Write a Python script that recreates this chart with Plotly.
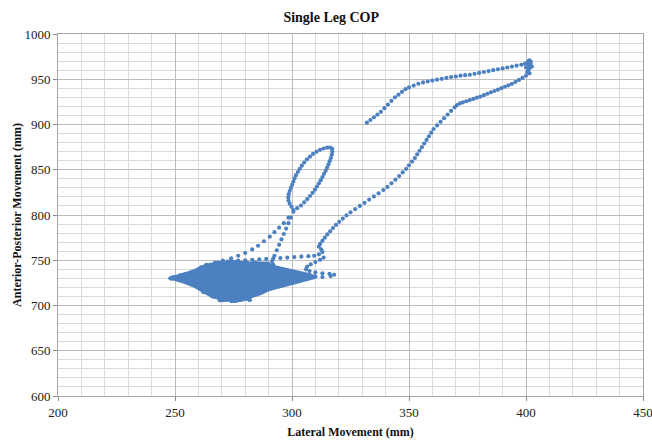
import plotly.graph_objects as go

# Centre-of-pressure trace, single-leg stance (mm)

# outward drift toward the upper-right turn
out_x = [332, 333.5, 335, 336.5, 338, 339.5, 341, 342.5, 344, 345.5, 347, 348.5, 350, 352, 354, 356,
         358, 360, 362, 364, 366, 368, 370, 372, 374, 376, 378, 380, 382, 384, 386, 388, 390, 392,
         394, 396, 398, 399.5]
out_y = [902, 905, 908, 911, 914, 918, 922, 926, 930, 933, 936, 939, 941, 943, 945, 946.5,
         947.5, 948.5, 949.5, 950.5, 951.5, 952.5, 953, 954, 954.5, 955, 956, 957, 958, 959, 960, 961,
         962, 963, 964, 965, 966, 967]

# turning point
turn_x = [400.5, 401, 401.5, 402, 402, 401.5, 401.5, 401, 400.5, 400, 401, 402.5]
turn_y = [968, 970, 971, 969.5, 967, 965, 962.5, 960, 958, 963, 966, 964]

# slow return along the lower edge
back_x = [401.5, 400, 398.5, 397, 395.5, 394, 392.5, 391, 389.5, 388, 386.5, 385, 383.5, 382,
          380.5, 379, 377.5, 376, 374.5, 373, 371.8, 370.5]
back_y = [956.5, 954, 951.5, 949.3, 947, 944.9, 943.3, 941.7, 940.1, 938.5, 937, 935.5, 934,
          932.4, 930.9, 929.6, 928.3, 927, 925.7, 924.4, 923.4, 921.5]

# fast descent toward the stance area
desc_x = [369.5, 368, 366.5, 365, 363.5, 362, 360.5, 359.5, 358.5, 357.5, 356.5, 355.5, 354.5,
          353.5, 352.5, 351.3, 350, 348.8, 347.3, 345.8, 344.2, 342.5, 340.8, 339, 337, 335, 333,
          331, 329, 327, 325, 323.3, 321.7, 320.2, 318.8, 317.5, 316.3, 315.1, 314, 313, 312]
desc_y = [919, 915, 911, 907, 903, 899, 895, 891, 887, 883, 879, 875, 871, 867, 863, 859, 855,
          851, 847, 843, 839, 835, 831, 827.5, 824, 820.5, 817, 813.5, 810, 806.5, 803, 799.5,
          796, 792.5, 789, 785.5, 782, 778.5, 775, 771.5, 768]

# small hook, then the drift leftward above the cluster
hook_x = [311.5, 312.5, 313, 311.5, 309.5, 307, 304, 301, 298, 295, 292, 289, 286, 283, 280,
          277, 274]
hook_y = [765, 762, 759, 756.5, 755, 754.5, 754, 753.5, 753, 752.5, 752, 751.5, 751, 750.5,
          750, 749.5, 749]

# second pass down into the right-hand tail
tail_x = [313.5, 312, 310, 308, 306.5, 306, 307.5, 310, 313, 316, 318, 316.5, 313]
tail_y = [753, 750.5, 748, 745.5, 743, 740, 738, 736.5, 735.5, 735, 734, 732.5, 731.5]

# excursion loop above the cluster (up the left side, down the right side)
loop_x = [300.6, 299.8, 299, 298.5, 298.4, 298.6, 299, 299.5, 300.1, 300.6, 301.1, 301.7,
          302.5, 303.3, 304.2, 305.2, 306.4, 307.7, 309, 310.5, 312, 313.5, 315, 316.3, 317.2,
          317.2, 317, 316.6, 316.1, 315.6, 315, 314.4, 313.7, 313, 312.3, 311.5, 310.7, 309.8,
          308.8, 307.7, 306.5, 305.2, 303.8, 302.2]
loop_y = [805.5, 809, 812.5, 816, 819.5, 823, 826.5, 830, 833.5, 837, 840.5, 844, 847.5, 851,
          854.5, 858, 861.5, 864.5, 867.5, 870, 872, 873.5, 874.5, 874.5, 873, 870, 866.5, 863,
          859.5, 856, 852.5, 849, 845.5, 842, 838.5, 835, 831.5, 828, 824.5, 821, 817.5, 814,
          810.5, 807.5]

# two legs linking the loop with the cluster
legA_x = [300.6, 298.5, 296.5, 294.5, 292.5, 290.5, 288, 285.5, 283, 280, 277, 274, 270.5, 267,
          263.5]
legA_y = [803.7, 797, 791, 786, 781, 776, 771, 766, 762, 758, 755, 752, 749.5, 747, 745]
legB_x = [299.5, 298.5, 297.5, 296.5, 295.5, 294.5, 293.5, 292.5, 291.5]
legB_y = [797, 791, 785, 779, 773, 767, 761, 755, 749]

# quiet-stance sway cluster
sway_x = [249, 262, 254, 272, 258, 285, 262, 298, 266, 305, 270, 296, 264, 288, 258, 281, 272,
          300, 276, 292, 268, 285, 262, 310, 275, 295, 266, 280, 252, 290, 270, 302, 278, 288,
          260, 284, 274, 306, 268, 292, 280, 298, 265, 286, 256, 276, 283, 300, 271, 294, 263,
          290, 248, 272, 284, 308, 279, 296, 270, 287, 264, 282, 268, 290, 261, 276, 273, 286,
          266, 294, 259, 279, 274, 281, 269]
sway_y = [731, 734, 729, 740, 726, 745, 720, 737, 715, 733, 709, 729, 717, 743, 724, 747, 707,
          731, 710, 740, 722, 746, 715, 732, 708, 724, 737, 744, 733, 720, 747, 735, 708, 727,
          740, 715, 747, 730, 719, 745, 710, 726, 745, 740, 734, 748, 716, 734, 724, 723, 744,
          735, 730, 726, 747, 733, 715, 739, 746, 722, 744, 706, 747, 746, 742, 705, 748, 745,
          710, 741, 738, 707, 705, 708, 706]

# extent of the cluster
edge_x = [249, 252, 256, 260, 264, 270, 278, 286, 292, 296, 300, 305, 309, 305, 299, 293, 287,
          282, 277, 271, 266, 262, 258, 254, 250]
edge_y = [731, 734, 737, 741, 744, 745.5, 746, 746, 744, 740, 736, 733, 732, 729.5, 726, 721,
          713, 708.5, 706, 706, 709, 715, 721, 725, 728]

BLUE = "rgb(76,128,192)"
SERIF = "Liberation Serif"

pts_x = out_x + turn_x + back_x + desc_x + hook_x + tail_x + loop_x + legA_x + legB_x + sway_x
pts_y = out_y + turn_y + back_y + desc_y + hook_y + tail_y + loop_y + legA_y + legB_y + sway_y

fig = go.Figure()
fig.add_trace(go.Scatter(x=edge_x, y=edge_y, mode="lines", fill="toself", fillcolor=BLUE,
                         line=dict(color=BLUE, width=2), hoverinfo="skip", showlegend=False))
fig.add_trace(go.Scatter(x=sway_x, y=sway_y, mode="lines", line=dict(color=BLUE, width=4.5),
                         hoverinfo="skip", showlegend=False))
fig.add_trace(go.Scatter(x=pts_x, y=pts_y, mode="markers",
                         marker=dict(color=BLUE, size=4.2, line=dict(width=0)),
                         showlegend=False))

axis_common = dict(
    showgrid=True, gridcolor="#BDBDBD", gridwidth=1,
    showline=True, mirror=True, linecolor="#A6A6A6", linewidth=1,
    ticks="outside", ticklen=4, tickcolor="#8A8A8A",
    zeroline=False, automargin=False, ticklabeloverflow="allow",
    tickfont=dict(family=SERIF, size=13, color="#222222"),
)

fig.update_xaxes(range=[200, 450], tick0=200, dtick=50,
                 minor=dict(dtick=10, showgrid=True, gridcolor="#DADADA", gridwidth=1),
                 title=dict(text="<b>Lateral Movement (mm)</b>", standoff=9,
                            font=dict(family=SERIF, size=12, color="#111111")),
                 **axis_common)
fig.update_yaxes(range=[600, 1000], tick0=600, dtick=50,
                 minor=dict(dtick=10, showgrid=True, gridcolor="#DADADA", gridwidth=1),
                 title=dict(text="<b>Anterior-Posterior Movement (mm)</b>", standoff=0,
                            font=dict(family=SERIF, size=12, color="#111111")),
                 **axis_common)

fig.update_layout(
    width=652, height=440,
    margin=dict(l=58, r=9, t=34, b=44, autoexpand=False),
    paper_bgcolor="white", plot_bgcolor="white",
    font=dict(family=SERIF, color="#222222"),
    title=dict(text="<b>Single Leg COP</b>", x=0.508, xref="container", xanchor="center",
               y=0.962, yref="container", yanchor="middle",
               font=dict(family=SERIF, size=14, color="#111111")),
)

fig.write_html("out.html")
